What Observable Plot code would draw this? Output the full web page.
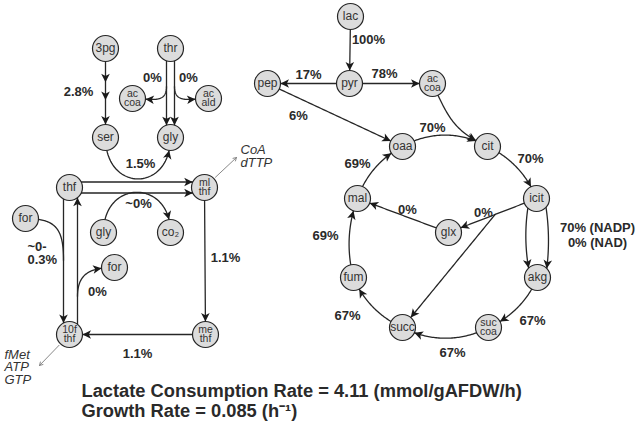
<!DOCTYPE html>
<html>
<head>
<meta charset="utf-8">
<script src="https://cdn.jsdelivr.net/npm/d3@7"></script>
<script src="https://cdn.jsdelivr.net/npm/@observablehq/plot@0.6"></script>
<style>
  html, body { margin: 0; padding: 0; background: #fff; }
</style>
</head>
<body>
<div id="chart"></div>
<script>
// ---------- data ----------
const nodes = [
  {id: "3pg", label: "3pg", x: 105, y: 48},
  {id: "thr", label: "thr", x: 170, y: 48},
  {id: "accoa1", label: "ac\ncoa", x: 132, y: 98},
  {id: "acald", label: "ac\nald", x: 208, y: 98},
  {id: "ser", label: "ser", x: 105, y: 137},
  {id: "gly1", label: "gly", x: 170, y: 137},
  {id: "thf", label: "thf", x: 69, y: 187},
  {id: "mlthf", label: "ml\nthf", x: 204, y: 187},
  {id: "for1", label: "for", x: 25, y: 218},
  {id: "gly2", label: "gly", x: 103, y: 232},
  {id: "co2", label: "co₂", x: 170, y: 232},
  {id: "for2", label: "for", x: 114, y: 267},
  {id: "fthf", label: "10f\nthf", x: 69, y: 334},
  {id: "methf", label: "me\nthf", x: 205, y: 334},
  {id: "lac", label: "lac", x: 350, y: 16},
  {id: "pyr", label: "pyr", x: 349, y: 83},
  {id: "pep", label: "pep", x: 267, y: 83},
  {id: "accoa2", label: "ac\ncoa", x: 432, y: 83},
  {id: "oaa", label: "oaa", x: 402, y: 146},
  {id: "cit", label: "cit", x: 487, y: 146},
  {id: "mal", label: "mal", x: 357, y: 198},
  {id: "icit", label: "icit", x: 536, y: 198},
  {id: "glx", label: "glx", x: 448, y: 232},
  {id: "fum", label: "fum", x: 353, y: 277},
  {id: "akg", label: "akg", x: 537, y: 277},
  {id: "succ", label: "succ", x: 402, y: 327},
  {id: "succoa", label: "suc\ncoa", x: 488, y: 327}
];

// branch points where one flux leaves / joins another line
const junctions = [
  {id: "jThrL", x: 166, y: 86},
  {id: "jThrR", x: 174, y: 86},
  {id: "jFor", x: 63, y: 260},
  {id: "jUp", x: 77, y: 296},
  {id: "jSucc", on: ["icit", "glx"], t: 0.47}
];

// reactions (from -> to); off = parallel offset, bend / a0,a1 = curvature
const edges = [
  {from: "3pg", to: "ser", mids: [0.38, 0.58]},
  {from: "thr", to: "gly1", off: 4},
  {from: "thr", to: "gly1", off: -4},
  {from: "jThrL", to: "accoa1", a0: 90, a1: 180, k: 0.5},
  {from: "jThrR", to: "acald", a0: 90, a1: 0, k: 0.5},
  {from: "ser", to: "gly1", a0: 90, a1: -90, k: 0.85},
  {from: "thf", to: "mlthf", off: -5.5},
  {from: "thf", to: "mlthf", off: 5.5},
  {from: "thf", to: "fthf", off: 6},
  {from: "fthf", to: "thf", off: 8},
  {from: "for1", to: "jFor", a0: 0, a1: 90, k: 0.55, head: false},
  {from: "jUp", to: "for2", a0: -90, a1: 0, k: 0.5},
  {from: "gly2", to: "co2", a0: -90, a1: 90, k: 0.8},
  {from: "mlthf", to: "methf"},
  {from: "methf", to: "fthf"},
  {from: "lac", to: "pyr"},
  {from: "pyr", to: "pep"},
  {from: "pyr", to: "accoa2"},
  {from: "pep", to: "oaa"},
  {from: "accoa2", to: "cit", a0: 65, a1: 25, k: 0.45},
  {from: "oaa", to: "cit", bend: -30},
  {from: "cit", to: "icit", bend: -22},
  {from: "icit", to: "akg", off: 7, bend: 12},
  {from: "icit", to: "akg", off: -8, bend: -10},
  {from: "akg", to: "succoa", bend: -22},
  {from: "succoa", to: "succ", bend: -28},
  {from: "succ", to: "fum", bend: -22},
  {from: "fum", to: "mal", bend: -18},
  {from: "mal", to: "oaa", bend: -22},
  {from: "icit", to: "glx"},
  {from: "glx", to: "mal"},
  {from: "jSucc", to: "succ"}
];

// flux labels
const fluxLabels = [
  {text: "2.8%", x: 78, y: 91},
  {text: "0%", x: 152, y: 77},
  {text: "0%", x: 188, y: 77},
  {text: "1.5%", x: 140, y: 163},
  {text: "~0%", x: 138, y: 203},
  {text: "1.1%", x: 225, y: 257},
  {text: "0%", x: 97, y: 291},
  {text: "1.1%", x: 137, y: 353},
  {text: "100%", x: 368, y: 39},
  {text: "17%", x: 308, y: 74},
  {text: "78%", x: 384, y: 73},
  {text: "6%", x: 298, y: 115},
  {text: "70%", x: 432, y: 127},
  {text: "70%", x: 530, y: 158},
  {text: "69%", x: 357, y: 163},
  {text: "0%", x: 407, y: 209},
  {text: "0%", x: 483, y: 212},
  {text: "70% (NADP)", x: 597, y: 227},
  {text: "0% (NAD)", x: 597, y: 242},
  {text: "69%", x: 325, y: 235},
  {text: "67%", x: 347, y: 315},
  {text: "67%", x: 532, y: 320},
  {text: "67%", x: 452, y: 352}
];
const fluxLabelsLeft = [
  {text: "~0-", x: 27, y: 246},
  {text: "0.3%", x: 27, y: 259}
];

// drains (thin grey arrows) and their notes
const drains = [
  {from: "mlthf", x: 236, y: 157},
  {from: "fthf", x: 39, y: 365}
];
const notes = [
  {text: "CoA\ndTTP", x: 240, y: 156},
  {text: "fMet\nATP\nGTP", x: 4, y: 367}
];

const summary = [
  {text: "Lactate Consumption Rate = 4.11 (mmol/gAFDW/h)", x: 81, y: 391},
  {text: "Growth Rate = 0.085 (h⁻¹)", x: 81, y: 411}
];

// ---------- geometry ----------
const R = 13;
const byId = new Map(nodes.map(d => [d.id, {...d, r: R}]));
for (const j of junctions) {
  if (j.on) {
    const a = byId.get(j.on[0]), b = byId.get(j.on[1]);
    byId.set(j.id, {id: j.id, x: a.x + j.t * (b.x - a.x), y: a.y + j.t * (b.y - a.y), r: 0});
  } else byId.set(j.id, {...j, r: 0});
}
const rad = Math.PI / 180;
const linePts = [];
const heads = [];
edges.forEach((e, i) => {
  const A = byId.get(e.from), B = byId.get(e.to);
  const dx = B.x - A.x, dy = B.y - A.y, L = Math.hypot(dx, dy);
  const ux = dx / L, uy = dy / L;
  const o = e.off || 0;
  const P0 = [A.x - uy * o, A.y + ux * o], P3 = [B.x - uy * o, B.y + ux * o];
  const chord = Math.atan2(dy, dx);
  let a0, a1, d;
  if (e.a0 !== undefined) {
    a0 = e.a0 * rad; a1 = e.a1 * rad; d = (e.k ?? 0.5) * L;
  } else {
    const b = (e.bend || 0) * rad;
    a0 = chord + b; a1 = chord - b;
    const ab = Math.abs(b);
    d = ab === 0 ? L / 3 : (4 / 3) * Math.tan(ab / 2) * L / (2 * Math.sin(ab));
  }
  const P1 = [P0[0] + d * Math.cos(a0), P0[1] + d * Math.sin(a0)];
  const P2 = [P3[0] - d * Math.cos(a1), P3[1] - d * Math.sin(a1)];
  const P = t => {
    const m = 1 - t;
    return [
      m*m*m*P0[0] + 3*m*m*t*P1[0] + 3*m*t*t*P2[0] + t*t*t*P3[0],
      m*m*m*P0[1] + 3*m*m*t*P1[1] + 3*m*t*t*P2[1] + t*t*t*P3[1]
    ];
  };
  const dist = (p, n) => Math.hypot(p[0] - n.x, p[1] - n.y);
  let t0 = 0, t1 = 1;
  if (A.r > 0) {
    let t = 0; while (t < 1 && dist(P(t), A) < A.r) t += 0.005;
    let lo = Math.max(0, t - 0.005), hi = t;
    for (let k = 0; k < 30; k++) { const mid = (lo + hi) / 2; if (dist(P(mid), A) < A.r) lo = mid; else hi = mid; }
    t0 = hi;
  }
  if (B.r > 0) {
    let t = 1; while (t > 0 && dist(P(t), B) < B.r) t -= 0.005;
    let lo = t, hi = Math.min(1, t + 0.005);
    for (let k = 0; k < 30; k++) { const mid = (lo + hi) / 2; if (dist(P(mid), B) < B.r) hi = mid; else lo = mid; }
    t1 = lo;
  }
  const N = 48;
  for (let k = 0; k <= N; k++) {
    const p = P(t0 + (t1 - t0) * k / N);
    linePts.push({id: i, x: p[0], y: p[1]});
  }
  const addHead = t => {
    const p = P(t), q = P(Math.max(0, t - 0.01));
    heads.push({x: p[0], y: p[1], rot: Math.atan2(p[1] - q[1], p[0] - q[0]) / rad + 90});
  };
  if (e.head !== false) addHead(t1);
  (e.mids || []).forEach(addHead);
});

const drainArrows = drains.map(d => {
  const n = byId.get(d.from);
  return {x1: n.x, y1: n.y, x2: d.x, y2: d.y};
});

const arrowHead = {
  draw(ctx) {
    ctx.moveTo(0, 0);
    ctx.lineTo(4.3, 8.5);
    ctx.lineTo(0, 6.3);
    ctx.lineTo(-4.3, 8.5);
    ctx.closePath();
  }
};

const ink = "#262626";
const font = "'Liberation Sans', Arial, Helvetica, sans-serif";

const chart = Plot.plot({
  width: 639,
  height: 426,
  margin: 0,
  x: {domain: [0, 639], range: [0, 639], axis: null},
  y: {domain: [0, 426], range: [0, 426], axis: null},
  style: {fontFamily: font, background: "#fff", color: ink},
  marks: [
    Plot.line(linePts, {x: "x", y: "y", z: "id", stroke: ink, strokeWidth: 1.3, curve: "linear"}),
    Plot.arrow(drainArrows, {x1: "x1", y1: "y1", x2: "x2", y2: "y2", insetStart: 15, stroke: "#7a7a7a", strokeWidth: 0.9, headLength: 6}),
    Plot.dot(nodes, {x: "x", y: "y", r: R, fill: "#dcdcdc", stroke: ink, strokeWidth: 1.2}),
    Plot.dot(heads, {x: "x", y: "y", rotate: "rot", symbol: arrowHead, fill: "#1a1a1a", stroke: "none"}),
    Plot.text(nodes.filter(d => !d.label.includes("\n")), {x: "x", y: "y", text: "label", fontSize: 12, fill: "#333"}),
    Plot.text(nodes.filter(d => d.label.includes("\n")), {x: "x", y: "y", text: "label", fontSize: 10.5, lineHeight: 0.84, fill: "#333"}),
    Plot.text(fluxLabels, {x: "x", y: "y", text: "text", fontSize: 13, fontWeight: "bold", fill: "#2a2a2a"}),
    Plot.text(fluxLabelsLeft, {x: "x", y: "y", text: "text", fontSize: 13, fontWeight: "bold", fill: "#2a2a2a", textAnchor: "start"}),
    Plot.text(notes, {x: "x", y: "y", text: "text", fontSize: 13, fontStyle: "italic", lineHeight: 0.95, textAnchor: "start", fill: "#333"}),
    Plot.text(summary, {x: "x", y: "y", text: "text", fontSize: 18.3, fontWeight: "bold", textAnchor: "start", fill: "#2a2a2a"})
  ]
});
document.getElementById("chart").appendChild(chart);
</script>
</body>
</html>
